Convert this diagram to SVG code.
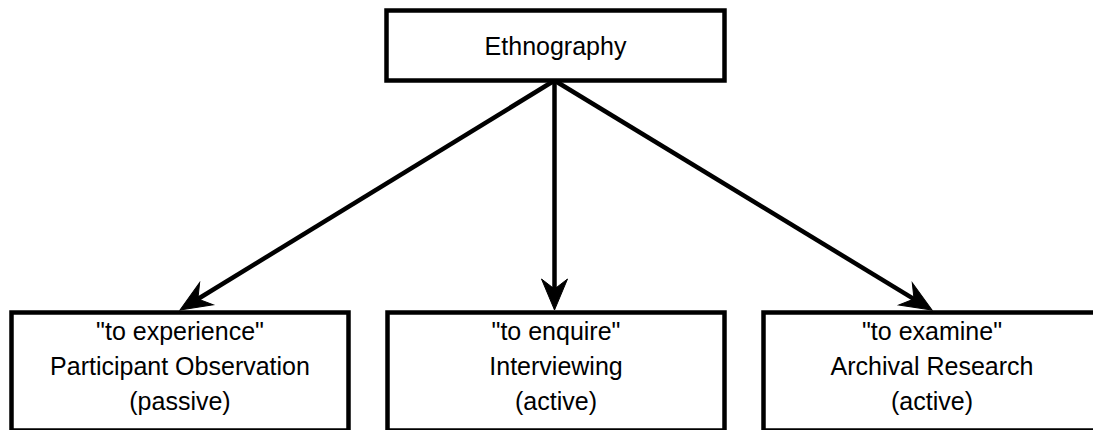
<svg xmlns="http://www.w3.org/2000/svg" width="1093" height="430" viewBox="0 0 1093 430">
  <style>
    .box { fill: #ffffff; stroke: #000000; stroke-width: 4.5; }
    .lbl { font-family: "Liberation Sans", Arial, Helvetica, sans-serif; font-size: 25px; fill: #000000; text-anchor: middle; }
    .edge { fill: none; stroke: #000000; stroke-width: 4.5; marker-end: url(#arrow); }
  </style>
  <defs>
    <marker id="arrow" markerUnits="userSpaceOnUse" orient="auto" refX="0" refY="0" markerWidth="40" markerHeight="40" overflow="visible">
      <path d="M21,0 L-10,-13 L0,0 L-10,13 Z" fill="#000000" stroke="#000000" stroke-width="1" stroke-linejoin="miter"/>
    </marker>
  </defs>
  <rect x="0" y="0" width="1093" height="430" fill="#ffffff"/>
  <g id="connectors">
    <line class="edge" x1="554.5" y1="80.5" x2="197.9" y2="299.0"/>
    <line class="edge" x1="554.5" y1="80.5" x2="554.5" y2="289"/>
    <line class="edge" x1="554.5" y1="80.5" x2="914.06" y2="299.09"/>
  </g>
  <g id="node-ethnography">
    <rect class="box" x="386.5" y="10.5" width="338" height="70"/>
    <text class="lbl" x="555.5" y="55">Ethnography</text>
  </g>
  <g id="node-participant">
    <rect class="box" x="11.5" y="312.5" width="337" height="118"/>
    <text class="lbl" x="180" y="339.5">"to experience"</text>
    <text class="lbl" x="180" y="374.5">Participant Observation</text>
    <text class="lbl" x="180" y="409.5">(passive)</text>
  </g>
  <g id="node-interviewing">
    <rect class="box" x="387.5" y="312.5" width="337" height="118"/>
    <text class="lbl" x="556" y="339.5">"to enquire"</text>
    <text class="lbl" x="556" y="374.5">Interviewing</text>
    <text class="lbl" x="556" y="409.5">(active)</text>
  </g>
  <g id="node-archival">
    <rect class="box" x="763.5" y="312.5" width="337" height="118"/>
    <text class="lbl" x="932" y="339.5">"to examine"</text>
    <text class="lbl" x="932" y="374.5">Archival Research</text>
    <text class="lbl" x="932" y="409.5">(active)</text>
  </g>
</svg>
